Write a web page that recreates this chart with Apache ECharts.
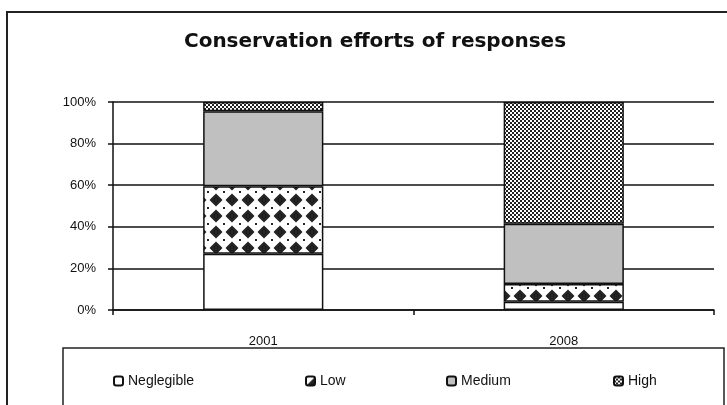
<!DOCTYPE html>
<html>
<head>
<meta charset="utf-8">
<script src="https://cdn.jsdelivr.net/npm/echarts@6/dist/echarts.min.js"></script>
<style>
  html, body { margin: 0; padding: 0; background: #fff; }
  #chart { width: 727px; height: 405px; }
</style>
</head>
<body>
<div id="chart"></div>
<script>
// 数据
var years = ["2001", "2008"];
var neglegible = [27, 4];
var low = [32.5, 8.5];
var medium = [36, 29];
var high = [4.5, 58.5];
var yTicks = [0, 20, 40, 60, 80, 100];

// 图案填充
function makeTile(w, h, draw) {
  var c = document.createElement("canvas");
  c.width = w;
  c.height = h;
  var ctx = c.getContext("2d");
  ctx.fillStyle = "#fff";
  ctx.fillRect(0, 0, w, h);
  draw(ctx);
  return { image: c, repeat: "repeat" };
}

var diamondFill = makeTile(16, 16, function(ctx) {
  ctx.fillStyle = "#222";
  ctx.beginPath();
  ctx.moveTo(8, 1.5);
  ctx.lineTo(14.5, 8);
  ctx.lineTo(8, 14.5);
  ctx.lineTo(1.5, 8);
  ctx.closePath();
  ctx.fill();
  // 角上的小点
  ctx.fillRect(0, 0, 1, 1);
  ctx.fillRect(15, 15, 1, 1);
  ctx.fillRect(0, 15, 1, 1);
  ctx.fillRect(15, 0, 1, 1);
});

var checkFill = makeTile(4, 4, function(ctx) {
  ctx.fillStyle = "#222";
  ctx.fillRect(0, 0, 2, 2);
  ctx.fillRect(2, 2, 2, 2);
});

var border = { borderColor: "#111", borderWidth: 1.5 };

function bar(name, data, color) {
  return {
    name: name,
    type: "bar",
    stack: "total",
    barWidth: "40%",
    data: data,
    itemStyle: Object.assign({ color: color }, border)
  };
}

var chart = echarts.init(document.getElementById("chart"));

var legendBase = {
  top: 369,
  itemWidth: 9,
  itemHeight: 9,
  itemGap: 4,
  icon: "roundRect",
  textStyle: { fontFamily: "Liberation Sans", fontSize: 14, color: "#111" }
};

chart.setOption({
  animation: false,
  backgroundColor: "#fff",
  title: {
    text: "Conservation efforts of responses",
    left: 370,
    top: 27,
    textAlign: "center",
    textStyle: { fontFamily: "DejaVu Sans", fontWeight: "bold", fontSize: 20, color: "#111" }
  },
  graphic: [
    { type: "rect", shape: { x: 7, y: 12, width: 730, height: 410 }, style: { fill: null, stroke: "#222", lineWidth: 2 }, z: -1 },
    { type: "rect", shape: { x: 63, y: 348, width: 661, height: 80 }, style: { fill: null, stroke: "#222", lineWidth: 1.5 }, z: -1 }
  ],
  legend: [
    Object.assign({ left: 108, data: ["Neglegible"] }, legendBase),
    Object.assign({ left: 300, data: ["Low"] }, legendBase),
    Object.assign({ left: 441, data: ["Medium"] }, legendBase),
    Object.assign({ left: 608, data: ["High"] }, legendBase)
  ],
  grid: { left: 113, right: 13, top: 102, bottom: 95 },
  xAxis: {
    type: "category",
    data: years,
    axisLine: { lineStyle: { color: "#111", width: 1.5 } },
    axisTick: { show: true, length: 5, lineStyle: { color: "#111", width: 1.5 } },
    axisLabel: { margin: 25, fontFamily: "Liberation Sans", fontSize: 13, color: "#111" }
  },
  yAxis: {
    type: "value",
    min: 0,
    max: 100,
    interval: 20,
    axisLine: { show: true, lineStyle: { color: "#111", width: 1.5 } },
    axisTick: { show: true, length: 5, lineStyle: { color: "#111", width: 1.5 } },
    axisLabel: {
      margin: 17,
      fontFamily: "Liberation Sans",
      fontSize: 13,
      color: "#111",
      formatter: function(v) { return yTicks.indexOf(v) >= 0 ? v + "%" : ""; }
    },
    splitLine: { show: true, lineStyle: { color: "#111", width: 1.5 } }
  },
  series: [
    bar("Neglegible", neglegible, "#fff"),
    bar("Low", low, diamondFill),
    bar("Medium", medium, "#c0c0c0"),
    bar("High", high, checkFill)
  ]
});
</script>
</body>
</html>
